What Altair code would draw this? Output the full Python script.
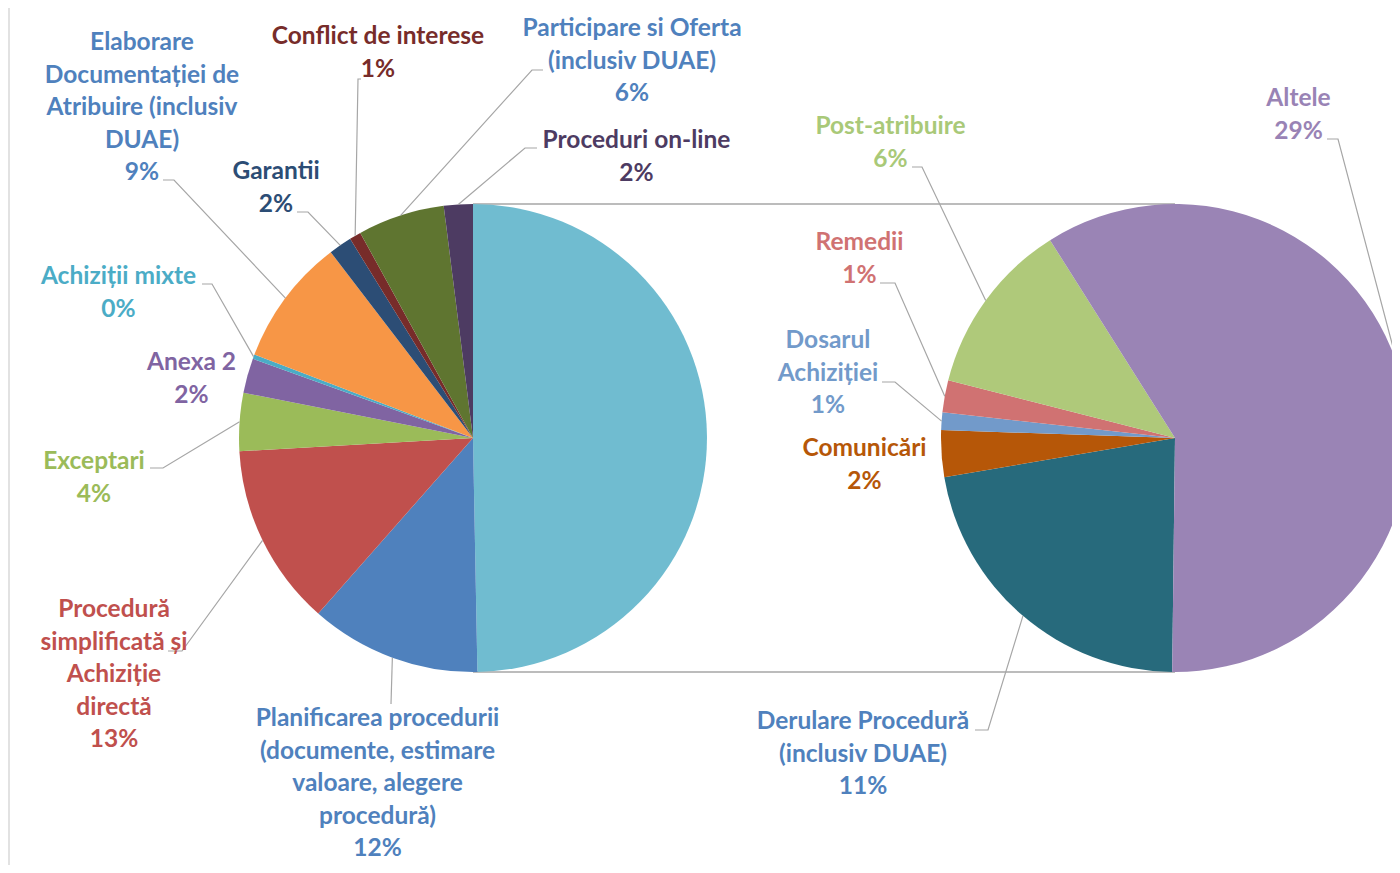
import math
import altair as alt
import pandas as pd

W, H = 1384, 857

# ---------------- data ----------------
# second (detail) pie, clockwise from the bottom
sec_names = ["Derulare Procedură\n(inclusiv DUAE)", "Comunicări", "Dosarul\nAchiziției",
             "Remedii", "Post-atribuire", "Altele"]
sec_values = [11.0, 1.6, 0.6, 1.1, 6.0, 29.4]
sec_colors = ["#276A7C", "#B65708", "#729ACA", "#D07272", "#AFC97A", "#9A84B5"]
sec_label_colors = ["#4F81BD", "#B65708", "#729ACA", "#D07272", "#A9C978", "#9983B5"]

# main pie, clockwise after the aggregated slice (which starts at 12 o'clock)
main_names = ["Planificarea procedurii\n(documente, estimare\nvaloare, alegere\nprocedură)",
              "Procedură\nsimplificată și\nAchiziție\ndirectă",
              "Exceptari", "Anexa 2", "Achiziții mixte",
              "Elaborare\nDocumentației de\nAtribuire (inclusiv\nDUAE)",
              "Garantii", "Conflict de interese",
              "Participare si Oferta\n(inclusiv DUAE)", "Proceduri on-line"]
main_values = [11.8, 12.6, 4.0, 2.4, 0.3, 8.8, 1.6, 0.8, 6.0, 2.0]
main_colors = ["#4F81BD", "#C0504D", "#9BBB59", "#8064A2", "#4BACC6",
               "#F79646", "#2C4D75", "#772C2A", "#5F7530", "#4D3B62"]
main_label_colors = ["#4F81BD", "#C0504D", "#9BBB59", "#8064A2", "#4BACC6",
                     "#4F81BD", "#2C4D75", "#772C2A", "#4F81BD", "#4D3B62"]
agg_color = "#70BCD0"

# ---------------- layout ----------------
R = 234
LC = (465, 430)   # main pie centre
RC = (1167, 430)  # detail pie centre
SEC_START = math.pi + 0.012

LABEL_POS = {  # centre x and first-line y of each label block
    "Planificarea": (369.5, 711), "Procedură": (106, 602), "Exceptari": (86, 454),
    "Anexa 2": (183.5, 355), "Achiziții mixte": (110.5, 269), "Elaborare": (134, 35),
    "Garantii": (268, 164), "Conflict": (370, 29), "Participare": (624, 21),
    "Proceduri": (628.5, 133),
    "Derulare": (855, 714), "Comunicări": (856.5, 441), "Dosarul": (820, 333),
    "Remedii": (851.5, 235), "Post-atribuire": (882.5, 119), "Altele": (1290.5, 91),
}
LEADER_POS = {  # label end and elbow of each leader line
    "Planificarea": [(383, 696)], "Procedură": [(160, 643), (174, 643)],
    "Exceptari": [(142, 460), (155, 460)], "Achiziții mixte": [(194, 276), (204, 276)],
    "Elaborare": [(155, 172), (166, 172)], "Garantii": [(289, 204), (300, 204)],
    "Conflict": [(353, 71), (350, 71)], "Participare": [(535, 62), (524, 62)],
    "Proceduri": [(529, 140), (517, 140)],
    "Derulare": [(967, 722), (980, 722)], "Dosarul": [(874, 374), (887, 374)],
    "Remedii": [(872, 275), (887, 275)], "Post-atribuire": [(904, 159), (914, 159)],
    "Altele": [(1319, 131), (1330, 131)],
}


def key_of(name):
    for k in LABEL_POS:
        if name.startswith(k):
            return k
    return None


agg_value = sum(sec_values)
total = agg_value + sum(main_values)

main_df = pd.DataFrame({
    "name": ["agg"] + main_names,
    "value": [agg_value] + main_values,
    "color": [agg_color] + main_colors,
    "i": list(range(len(main_names) + 1)),
})
sec_df = pd.DataFrame({
    "name": sec_names, "value": sec_values, "color": sec_colors,
    "i": list(range(len(sec_names))),
})

labels, leaders = [], []


def add_pie(names, values, lcolors, offset_before, pie_total, start, centre):
    cum = offset_before
    for n, v, c in zip(names, values, lcolors):
        k = key_of(n)
        pct = round(v / total * 100)
        x, y = LABEL_POS[k]
        labels.append({"text": f"{n}\n{pct}%", "x": x, "y": y, "color": c})
        if k in LEADER_POS:
            a = start + (cum + v / 2) / pie_total * 2 * math.pi
            edge = (centre[0] + R * math.sin(a), centre[1] - R * math.cos(a))
            pts = LEADER_POS[k] + [edge]
            for s, (px, py) in enumerate(pts):
                leaders.append({"id": k, "seq": s, "x": px, "y": py})
        cum += v


add_pie(main_names, main_values, main_label_colors, agg_value, total, 0.0, LC)
add_pie(sec_names, sec_values, sec_label_colors, 0.0, agg_value, SEC_START, RC)

labels_df = pd.DataFrame(labels)
leaders_df = pd.DataFrame(leaders)

# connector lines between the aggregated slice and the detail pie
conn_df = pd.DataFrame([
    {"id": "top", "seq": 0, "x": LC[0], "y": LC[1] - R},
    {"id": "top", "seq": 1, "x": RC[0], "y": RC[1] - R},
    {"id": "bot", "seq": 0, "x": LC[0], "y": LC[1] + R},
    {"id": "bot", "seq": 1, "x": RC[0], "y": RC[1] + R},
])

px_x = alt.X("x:Q", scale=None, axis=None)
px_y = alt.Y("y:Q", scale=None, axis=None)

border = alt.Chart(pd.DataFrame({"a": [0]})).mark_rule(color="#D9D9D9", strokeWidth=1.5).encode(
    x=alt.value(1), y=alt.value(0), y2=alt.value(H))

conn = alt.Chart(conn_df).mark_line(color="#A6A6A6", strokeWidth=1.5).encode(
    x=px_x, y=px_y, detail="id:N", order="seq:Q")

main_arc = alt.Chart(main_df).mark_arc(radius=R).encode(
    theta=alt.Theta("value:Q", stack=True),
    color=alt.Color("color:N", scale=None),
    order=alt.Order("i:Q"),
    x=alt.value(LC[0]), y=alt.value(LC[1]))

sec_arc = alt.Chart(sec_df).mark_arc(radius=R, clip=True).encode(
    theta=alt.Theta("value:Q", stack=True,
                    scale=alt.Scale(range=[SEC_START, SEC_START + 2 * math.pi])),
    color=alt.Color("color:N", scale=None),
    order=alt.Order("i:Q"),
    x=alt.value(RC[0]), y=alt.value(RC[1]))

lead = alt.Chart(leaders_df).mark_line(color="#A6A6A6", strokeWidth=1.2).encode(
    x=px_x, y=px_y, detail="id:N", order="seq:Q")

text = alt.Chart(labels_df).mark_text(
    font="Lato", fontWeight="bold", fontSize=24.5, lineHeight=32.5,
    align="center", baseline="middle", lineBreak="\n").encode(
    x=px_x, y=px_y, text="text:N", color=alt.Color("color:N", scale=None))

chart = alt.layer(border, conn, main_arc, sec_arc, lead, text).resolve_scale(
    theta="independent").properties(
    width=W, height=H, padding=0, autosize="none").configure_view(stroke=None)

chart.save("out.html", embed_options={"renderer": "svg", "actions": False})
